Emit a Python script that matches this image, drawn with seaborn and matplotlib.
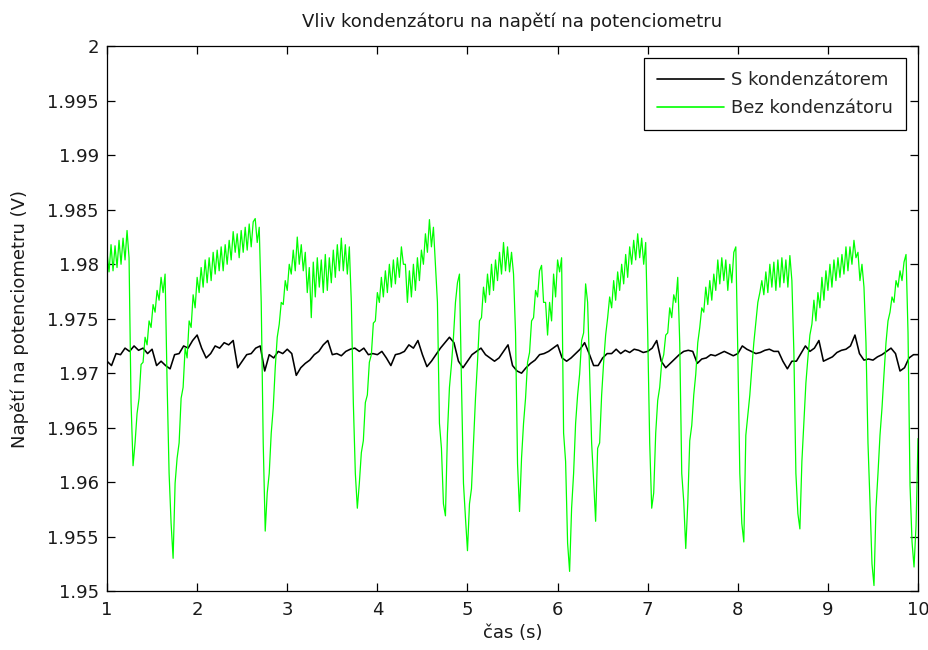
import numpy as np
import pandas as pd
import matplotlib
matplotlib.use("Agg")
import matplotlib.pyplot as plt
import seaborn as sns

# Napětí na potenciometru bez kondenzátoru, vzorkováno 45 Hz od 1 s do 10 s
napeti_bez = [
    1.9811, 1.9793, 1.9818, 1.9794, 1.9817, 1.9797, 1.9822, 1.9800, 1.9824,
    1.9804, 1.9831, 1.9806, 1.9673, 1.9615, 1.9636, 1.9663, 1.9677, 1.9708,
    1.9710, 1.9733, 1.9726, 1.9748, 1.9742, 1.9763, 1.9756, 1.9776, 1.9767,
    1.9788, 1.9774, 1.9791, 1.9691, 1.9608, 1.9562, 1.9530, 1.9599, 1.9622,
    1.9636, 1.9677, 1.9687, 1.9723, 1.9714, 1.9748, 1.9742, 1.9772, 1.9760,
    1.9788, 1.9774, 1.9797, 1.9779, 1.9804, 1.9783, 1.9806, 1.9785, 1.9811,
    1.9791, 1.9813, 1.9794, 1.9816, 1.9794, 1.9818, 1.9800, 1.9822, 1.9804,
    1.9830, 1.9811, 1.9828, 1.9806, 1.9831, 1.9811, 1.9834, 1.9813, 1.9837,
    1.9816, 1.9839, 1.9842, 1.9820, 1.9834, 1.9765, 1.9636, 1.9555, 1.9590,
    1.9608, 1.9645, 1.9668, 1.9705, 1.9733, 1.9745, 1.9765, 1.9763, 1.9785,
    1.9776, 1.9800, 1.9791, 1.9813, 1.9794, 1.9825, 1.9800, 1.9818, 1.9794,
    1.9811, 1.9774, 1.9797, 1.9751, 1.9802, 1.9770, 1.9806, 1.9779, 1.9804,
    1.9774, 1.9809, 1.9776, 1.9806, 1.9783, 1.9813, 1.9788, 1.9818, 1.9794,
    1.9824, 1.9794, 1.9818, 1.9791, 1.9816, 1.9765, 1.9673, 1.9608, 1.9576,
    1.9599, 1.9627, 1.9638, 1.9673, 1.9680, 1.9710, 1.9717, 1.9746, 1.9748,
    1.9774, 1.9765, 1.9788, 1.9770, 1.9794, 1.9774, 1.9800, 1.9779, 1.9804,
    1.9782, 1.9806, 1.9788, 1.9816, 1.9800, 1.9800, 1.9765, 1.9794, 1.9770,
    1.9800, 1.9776, 1.9806, 1.9785, 1.9813, 1.9800, 1.9828, 1.9811, 1.9841,
    1.9816, 1.9834, 1.9800, 1.9765, 1.9654, 1.9631, 1.9580, 1.9569, 1.9645,
    1.9687, 1.9708, 1.9733, 1.9765, 1.9783, 1.9791, 1.9691, 1.9599, 1.9567,
    1.9537, 1.9580, 1.9594, 1.9636, 1.9677, 1.9710, 1.9748, 1.9751, 1.9779,
    1.9765, 1.9791, 1.9772, 1.9800, 1.9776, 1.9804, 1.9785, 1.9811, 1.9791,
    1.9820, 1.9794, 1.9816, 1.9793, 1.9811, 1.9791, 1.9737, 1.9617, 1.9573,
    1.9622, 1.9654, 1.9677, 1.9710, 1.9719, 1.9748, 1.9751, 1.9776, 1.9770,
    1.9794, 1.9799, 1.9765, 1.9765, 1.9735, 1.9765, 1.9748, 1.9791, 1.9770,
    1.9804, 1.9793, 1.9806, 1.9645, 1.9619, 1.9544, 1.9518, 1.9576, 1.9608,
    1.9654, 1.9680, 1.9699, 1.9730, 1.9737, 1.9782, 1.9765, 1.9700, 1.9636,
    1.9601, 1.9564, 1.9631, 1.9636, 1.9680, 1.9710, 1.9735, 1.9751, 1.9770,
    1.9760, 1.9785, 1.9767, 1.9793, 1.9776, 1.9800, 1.9782, 1.9809, 1.9788,
    1.9816, 1.9800, 1.9822, 1.9804, 1.9828, 1.9806, 1.9824, 1.9800, 1.9820,
    1.9737, 1.9636, 1.9576, 1.9590, 1.9645, 1.9675, 1.9687, 1.9710, 1.9717,
    1.9735, 1.9737, 1.9760, 1.9751, 1.9772, 1.9765, 1.9788, 1.9728, 1.9608,
    1.9582, 1.9539, 1.9580, 1.9638, 1.9652, 1.9680, 1.9699, 1.9728, 1.9742,
    1.9760, 1.9756, 1.9779, 1.9763, 1.9785, 1.9767, 1.9791, 1.9776, 1.9804,
    1.9782, 1.9806, 1.9785, 1.9804, 1.9776, 1.9800, 1.9783, 1.9811, 1.9816,
    1.9719, 1.9608, 1.9562, 1.9545, 1.9643, 1.9662, 1.9680, 1.9705, 1.9728,
    1.9746, 1.9765, 1.9774, 1.9785, 1.9772, 1.9793, 1.9774, 1.9800, 1.9779,
    1.9802, 1.9776, 1.9804, 1.9779, 1.9806, 1.9783, 1.9804, 1.9779, 1.9808,
    1.9785, 1.9719, 1.9608, 1.9571, 1.9557, 1.9619, 1.9656, 1.9691, 1.9714,
    1.9735, 1.9745, 1.9767, 1.9748, 1.9774, 1.9760, 1.9788, 1.9767, 1.9794,
    1.9776, 1.9800, 1.9779, 1.9804, 1.9785, 1.9806, 1.9788, 1.9809, 1.9791,
    1.9816, 1.9794, 1.9816, 1.9800, 1.9822, 1.9806, 1.9811, 1.9785, 1.9800,
    1.9779, 1.9728, 1.9636, 1.9582, 1.9525, 1.9505, 1.9576, 1.9608, 1.9643,
    1.9668, 1.9699, 1.9728, 1.9748, 1.9756, 1.9770, 1.9765, 1.9785, 1.9779,
    1.9794, 1.9785, 1.9802, 1.9809, 1.9737, 1.9597, 1.9545, 1.9522, 1.9560,
    1.9640,
]

# Napětí na potenciometru s kondenzátorem, vzorkováno 20 Hz od 1 s do 10 s
napeti_s = [
    1.9711, 1.9707, 1.9718, 1.9717, 1.9723, 1.9720, 1.9725, 1.9721, 1.9723, 1.9718,
    1.9722, 1.9707, 1.9711, 1.9707, 1.9704, 1.9717, 1.9718, 1.9725, 1.9723, 1.9730,
    1.9735, 1.9723, 1.9714, 1.9718, 1.9725, 1.9723, 1.9728, 1.9726, 1.9730, 1.9705,
    1.9711, 1.9717, 1.9718, 1.9723, 1.9725, 1.9702, 1.9717, 1.9714, 1.9720, 1.9718,
    1.9722, 1.9718, 1.9698, 1.9705, 1.9709, 1.9712, 1.9717, 1.9720, 1.9726, 1.9730,
    1.9717, 1.9718, 1.9716, 1.9720, 1.9722, 1.9723, 1.9720, 1.9723, 1.9717, 1.9718,
    1.9717, 1.9720, 1.9714, 1.9707, 1.9717, 1.9718, 1.9720, 1.9726, 1.9723, 1.9730,
    1.9717, 1.9706, 1.9711, 1.9717, 1.9723, 1.9728, 1.9733, 1.9728, 1.9711, 1.9705,
    1.9711, 1.9717, 1.9720, 1.9723, 1.9717, 1.9714, 1.9711, 1.9714, 1.9720, 1.9726,
    1.9707, 1.9702, 1.9700, 1.9705, 1.9709, 1.9712, 1.9717, 1.9718, 1.9720, 1.9723,
    1.9726, 1.9714, 1.9711, 1.9714, 1.9718, 1.9722, 1.9728, 1.9718, 1.9707, 1.9707,
    1.9714, 1.9718, 1.9718, 1.9722, 1.9718, 1.9721, 1.9719, 1.9722, 1.9721, 1.9719,
    1.9720, 1.9723, 1.9730, 1.9711, 1.9705, 1.9709, 1.9713, 1.9717, 1.9720, 1.9721,
    1.9720, 1.9709, 1.9713, 1.9714, 1.9717, 1.9716, 1.9718, 1.9720, 1.9718, 1.9716,
    1.9718, 1.9725, 1.9722, 1.9720, 1.9718, 1.9719, 1.9721, 1.9722, 1.9720, 1.9720,
    1.9711, 1.9704, 1.9711, 1.9711, 1.9718, 1.9725, 1.9720, 1.9723, 1.9730, 1.9711,
    1.9713, 1.9715, 1.9719, 1.9721, 1.9722, 1.9725, 1.9735, 1.9718, 1.9712, 1.9713,
    1.9712, 1.9715, 1.9717, 1.9720, 1.9723, 1.9718, 1.9702, 1.9705, 1.9714, 1.9717,
    1.9717,
]

cas_od, cas_do = 1.0, 10.0
x_ticks = [1, 2, 3, 4, 5, 6, 7, 8, 9, 10]
y_ticks = [1.95, 1.955, 1.96, 1.965, 1.97, 1.975, 1.98, 1.985, 1.99, 1.995, 2.0]
y_tick_labels = ["1.95", "1.955", "1.96", "1.965", "1.97", "1.975",
                 "1.98", "1.985", "1.99", "1.995", "2"]
serie = ["S kondenzátorem", "Bez kondenzátoru"]
barvy = {"S kondenzátorem": "#000000", "Bez kondenzátoru": "#00ff00"}
tloustky = {"S kondenzátorem": 1.15, "Bez kondenzátoru": 0.9}

df = pd.concat([
    pd.DataFrame({"cas": np.linspace(cas_od, cas_do, len(napeti_s)),
                  "napeti": napeti_s, "serie": serie[0]}),
    pd.DataFrame({"cas": np.linspace(cas_od, cas_do, len(napeti_bez)),
                  "napeti": napeti_bez, "serie": serie[1]}),
], ignore_index=True)

sns.set_theme(style="white")
plt.rcParams["font.family"] = ["DejaVu Sans"]
plt.rcParams["font.size"] = 13

fig = plt.figure(figsize=(9.29, 6.5), dpi=100, facecolor="white")
ax = fig.add_axes([0.1152, 0.0908, 0.8730, 0.8377])
ax.set_facecolor("white")

for nazev in serie:
    sns.lineplot(data=df[df["serie"] == nazev], x="cas", y="napeti",
                 color=barvy[nazev], label=nazev, estimator=None, sort=False,
                 linewidth=tloustky[nazev], ax=ax)

ax.set_xlim(cas_od, cas_do)
ax.set_ylim(1.95, 2.0)
ax.set_xticks(x_ticks)
ax.set_xticklabels([str(v) for v in x_ticks])
ax.set_yticks(y_ticks)
ax.set_yticklabels(y_tick_labels)

for s in ax.spines.values():
    s.set_visible(True)
    s.set_color("black")
    s.set_linewidth(0.9)
ax.tick_params(axis="both", which="major", direction="in", length=6,
               width=0.9, color="black", labelsize=13, labelcolor="#1a1a1a",
               top=True, right=True, left=True, bottom=True)
ax.tick_params(axis="x", pad=7)
ax.tick_params(axis="y", pad=6)

ax.set_title("Vliv kondenzátoru na napětí na potenciometru",
             fontsize=13, color="#1a1a1a", pad=14)
ax.set_xlabel("čas (s)", fontsize=13, color="#1a1a1a", labelpad=4)
ax.set_ylabel("Napětí na potenciometru (V)", fontsize=13, color="#1a1a1a",
              labelpad=13)

handles, labels = ax.get_legend_handles_labels()
leg = ax.legend(handles, labels, loc="upper right", fontsize=13,
                frameon=True, fancybox=False, shadow=False, framealpha=1,
                edgecolor="black", borderaxespad=0.65, borderpad=0.72,
                handlelength=3.7, handletextpad=0.4, labelspacing=0.55)
leg.get_frame().set_linewidth(0.9)
for line in leg.get_lines():
    line.set_linewidth(1.2)

fig.savefig("out.png", dpi=100, facecolor="white")
